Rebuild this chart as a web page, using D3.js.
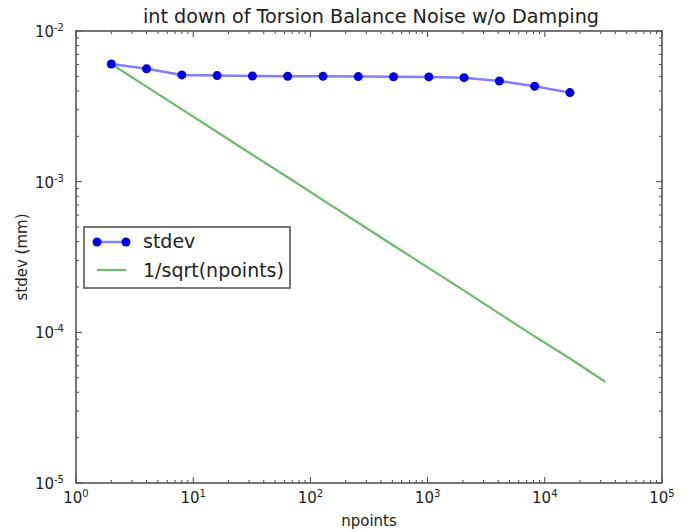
<!DOCTYPE html>
<html>
<head>
<meta charset="utf-8">
<script src="https://cdn.jsdelivr.net/npm/d3@7"></script>
<style>
  body { margin: 0; background: #fff; }
  svg { display: block; font-family: "DejaVu Sans", sans-serif; }
</style>
</head>
<body>
<script>
const width = 692;
const height = 532;
const margin = { top: 31, right: 30, bottom: 49, left: 76 };

// data
const npoints = [2, 4, 8, 16, 32, 64, 128, 256, 512, 1024, 2048, 4096, 8192, 16384];
const stdev = [6.04e-3, 5.62e-3, 5.11e-3, 5.06e-3, 5.03e-3, 5.01e-3, 5.0e-3, 4.98e-3, 4.97e-3, 4.96e-3, 4.9e-3, 4.66e-3, 4.3e-3, 3.9e-3];
const refN = [2, 4, 8, 16, 32, 64, 128, 256, 512, 1024, 2048, 4096, 8192, 16384, 32768];
const refVals = [6.04e-3, 4.27e-3, 3.02e-3, 2.135e-3, 1.51e-3, 1.07e-3, 7.55e-4, 5.34e-4, 3.77e-4, 2.67e-4, 1.89e-4, 1.33e-4, 9.4e-5, 6.7e-5, 4.7e-5];
const xTickExp = [0, 1, 2, 3, 4, 5];
const yTickExp = [-5, -4, -3, -2];

const x = d3.scaleLog().domain([1, 1e5]).range([margin.left, width - margin.right]);
const y = d3.scaleLog().domain([1e-5, 1e-2]).range([height - margin.bottom, margin.top]);

const svg = d3.select("body").append("svg").attr("width", width).attr("height", height);

const minorOf = (exps) => {
  const out = [];
  for (let i = 0; i < exps.length - 1; i++)
    for (let k = 2; k < 10; k++) out.push(k * Math.pow(10, exps[i]));
  return out;
};
const xMajor = xTickExp.map((e) => Math.pow(10, e));
const yMajor = yTickExp.map((e) => Math.pow(10, e));

// inward ticks on all four sides, matplotlib classic style
const tickCol = "#444";
const [x0, x1] = x.range();
const [y0, y1] = y.range();
const ticks = svg.append("g").attr("stroke", tickCol).attr("stroke-width", 1);
const addTicks = (vals, len) => {
  vals.forEach((v) => {
    const px = x(v);
    ticks.append("line").attr("x1", px).attr("x2", px).attr("y1", y0).attr("y2", y0 - len);
    ticks.append("line").attr("x1", px).attr("x2", px).attr("y1", y1).attr("y2", y1 + len);
  });
};
const addYTicks = (vals, len) => {
  vals.forEach((v) => {
    const py = y(v);
    ticks.append("line").attr("y1", py).attr("y2", py).attr("x1", x0).attr("x2", x0 + len);
    ticks.append("line").attr("y1", py).attr("y2", py).attr("x1", x1).attr("x2", x1 - len);
  });
};
addTicks(xMajor, 6);
addTicks(minorOf(xTickExp), 3);
addYTicks(yMajor, 6);
addYTicks(minorOf(yTickExp), 3);

// frame
svg.append("rect")
  .attr("x", x0).attr("y", y1)
  .attr("width", x1 - x0).attr("height", y0 - y1)
  .attr("fill", "none").attr("stroke", "#555").attr("stroke-width", 1.6);

// tick labels with superscript exponents
const xl = svg.append("g").attr("font-size", 15).attr("fill", "#222").attr("text-anchor", "middle");
xTickExp.forEach((e) => {
  const t = xl.append("text").attr("x", x(Math.pow(10, e))).attr("y", y0 + 20);
  t.append("tspan").text("10");
  t.append("tspan").attr("dy", -6).attr("font-size", 10).text(e);
});
const yl = svg.append("g").attr("font-size", 15).attr("fill", "#222").attr("text-anchor", "end");
yTickExp.forEach((e) => {
  const t = yl.append("text").attr("x", x0 - 12).attr("y", y(Math.pow(10, e)) + 6);
  t.append("tspan").text("10");
  t.append("tspan").attr("dy", -6).attr("font-size", 10).text(e);
});

// axis labels and title
svg.append("text")
  .attr("x", (x0 + x1) / 2).attr("y", 526)
  .attr("text-anchor", "middle").attr("font-size", 15).attr("fill", "#222")
  .text("npoints");
svg.append("text")
  .attr("transform", `translate(27,${(y0 + y1) / 2}) rotate(-90)`)
  .attr("text-anchor", "middle").attr("font-size", 15).attr("fill", "#222")
  .text("stdev (mm)");
svg.append("text")
  .attr("x", (x0 + x1) / 2 + 2).attr("y", 23)
  .attr("text-anchor", "middle").attr("font-size", 19.2).attr("fill", "#222")
  .text("int down of Torsion Balance Noise w/o Damping");

const line = d3.line().x((d) => x(d[0])).y((d) => y(d[1]));

// reference line
svg.append("path")
  .datum(d3.zip(refN, refVals))
  .attr("fill", "none").attr("stroke", "#6dbb6d").attr("stroke-width", 2.2)
  .attr("d", line);

// stdev series
const series = d3.zip(npoints, stdev);
svg.append("path")
  .datum(series)
  .attr("fill", "none").attr("stroke", "#7f7fff").attr("stroke-width", 2.5)
  .attr("d", line);
svg.append("g").attr("fill", "#0000e6")
  .selectAll("circle").data(series).join("circle")
  .attr("cx", (d) => x(d[0])).attr("cy", (d) => y(d[1])).attr("r", 4.5);

// legend
const lg = svg.append("g");
lg.append("rect")
  .attr("x", 84).attr("y", 227).attr("width", 206).attr("height", 61)
  .attr("fill", "#fff").attr("stroke", "#555").attr("stroke-width", 1.6);
lg.append("line").attr("x1", 97).attr("x2", 126).attr("y1", 242).attr("y2", 242)
  .attr("stroke", "#7f7fff").attr("stroke-width", 2.5);
[97, 126].forEach((cx) => lg.append("circle").attr("cx", cx).attr("cy", 242).attr("r", 4.5).attr("fill", "#0000e6"));
lg.append("line").attr("x1", 97).attr("x2", 126).attr("y1", 270).attr("y2", 270)
  .attr("stroke", "#6dbb6d").attr("stroke-width", 2.2);
lg.append("text").attr("x", 143).attr("y", 248).attr("font-size", 19).attr("fill", "#222").text("stdev");
lg.append("text").attr("x", 143).attr("y", 277).attr("font-size", 19).attr("fill", "#222").text("1/sqrt(npoints)");
</script>
</body>
</html>
